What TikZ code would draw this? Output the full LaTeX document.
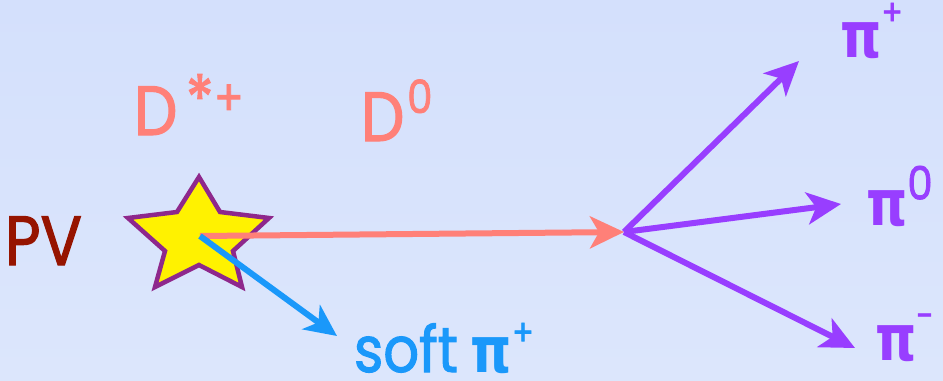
\documentclass[tikz,border=0pt]{standalone}
\usepackage{fontspec}
\setmainfont{Poppins}[FakeStretch=0.88,FakeBold=1.6]
\newfontfamily\gk{DejaVu Sans}[FakeStretch=0.82]
\usetikzlibrary{arrows.meta}
\definecolor{bgtop}{RGB}{212,224,252}
\definecolor{bgbot}{RGB}{220,230,252}
\definecolor{salmon}{RGB}{255,128,120}
\definecolor{skyb}{RGB}{26,152,250}
\definecolor{violet}{RGB}{152,62,255}
\definecolor{starline}{RGB}{142,40,140}
\definecolor{pvred}{RGB}{150,20,0}
\tikzset{
  trk/.style={line width=6bp, -{Stealth[length=34bp,width=32bp,inset=9bp]}},
  lbl/.style={anchor=base west, inner sep=0pt, outer sep=0pt},
}
\begin{document}
\begin{tikzpicture}[x=1bp,y=-1bp]
\shade[top color=bgtop,bottom color=bgbot] (0,0) rectangle (943,380);
\useasboundingbox (0,0) rectangle (943,380);
% star
\filldraw[fill=yellow,draw=starline,line width=4.5bp,line join=miter]
  (199,177) -- (220,212) -- (269,218) -- (233,251) -- (242,287) -- (199,265)
  -- (155,287) -- (165,251) -- (128,218) -- (177,212) -- cycle;
\coordinate (pv) at (200,236);
\coordinate (dv) at (624,232);
\coordinate (sp) at (337,336);
\coordinate (pp) at (799,61);
\coordinate (pz) at (841,204);
\coordinate (pm) at (855,348);
\draw[trk,salmon] (pv) -- (dv);
\draw[trk,skyb,-{Stealth[length=32bp,width=30bp,inset=9bp]}] (pv) -- (sp);
\draw[trk,violet] (dv) -- (pp);
\draw[trk,violet] (dv) -- (pz);
\draw[trk,violet] (dv) -- (pm);
% labels
\node[lbl,text=pvred,font=\fontsize{70}{70}\selectfont] (lpv) at (5,265) {PV};
\node[lbl,text=salmon,font=\fontsize{70}{70}\selectfont] (lds) at (134,135) {D\hspace{0.12em}\raisebox{0.18em}{\fontsize{66}{66}\selectfont *}\raisebox{0.28em}{\fontsize{50}{50}\selectfont +}};
\node[lbl,text=salmon,font=\fontsize{70}{70}\selectfont] (ld0) at (361,141) {D\hspace{0.04em}\raisebox{0.4em}{\fontsize{46}{46}\selectfont 0}};
\node[lbl,text=skyb,font=\fontsize{64}{64}\selectfont] (lsoft) at (354,372) {soft\hspace{0.2em}{\gk\bfseries π}\raisebox{0.42em}{\fontsize{36}{36}\selectfont +}};
\node[lbl,text=violet,font=\fontsize{64}{64}\selectfont] (lpp) at (840,57) {{\gk\bfseries π}\raisebox{0.5em}{\fontsize{36}{36}\selectfont +}};
\node[lbl,text=violet,font=\fontsize{64}{64}\selectfont] (lpz) at (866,225) {{\gk\bfseries π}\raisebox{0.4em}{\fontsize{46}{46}\selectfont 0}};
\node[lbl,text=violet,font=\fontsize{64}{64}\selectfont] (lpm) at (875,360) {{\gk\bfseries π}\raisebox{0.5em}{\fontsize{36}{36}\selectfont -}};
\end{tikzpicture}
\end{document}
